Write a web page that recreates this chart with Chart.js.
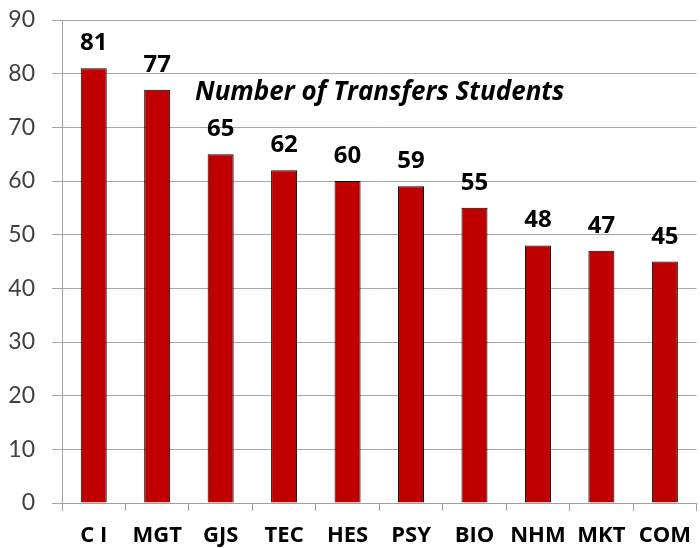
<!DOCTYPE html>
<html>
<head>
<meta charset="utf-8">
<script src="https://cdn.jsdelivr.net/npm/chart.js@4/dist/chart.umd.min.js"></script>
<style>
html,body{margin:0;padding:0;overflow:hidden;background:#fff;}
canvas{display:block;}
</style>
</head>
<body>
<canvas id="c" width="703" height="548"></canvas>
<script>
const categories = ["C I","MGT","GJS","TEC","HES","PSY","BIO","NHM","MKT","COM"];
const transfers = [81,77,65,62,60,59,55,48,47,45];
const yTicks = [0,10,20,30,40,50,60,70,80,90];
const chartTitle = "Number of Transfers Students";

const FONT = "Lato, 'Open Sans', sans-serif";
const BFONT = "'Open Sans', Lato, sans-serif";

const valueLabels = {
  id: 'valueLabels',
  afterDatasetsDraw(chart) {
    const ctx = chart.ctx;
    const meta = chart.getDatasetMeta(0);
    ctx.save();
    ctx.font = "bold 24px " + BFONT;
    ctx.fillStyle = "#000";
    ctx.textAlign = "center";
    ctx.textBaseline = "alphabetic";
    meta.data.forEach((bar, i) => {
      ctx.fillText(String(transfers[i]), bar.x, bar.y - 18);
    });
    ctx.restore();
  }
};

const innerTitle = {
  id: 'innerTitle',
  afterDraw(chart) {
    const ctx = chart.ctx;
    const a = chart.chartArea;
    ctx.save();
    ctx.font = "italic bold 26px " + BFONT;
    ctx.fillStyle = "#000";
    ctx.textAlign = "left";
    ctx.textBaseline = "alphabetic";
    ctx.fillText(chartTitle, a.left + 133, a.top + 80);
    ctx.restore();
  }
};

new Chart(document.getElementById('c'), {
  type: 'bar',
  data: {
    labels: categories,
    datasets: [{
      data: transfers,
      backgroundColor: '#C00000',
      borderColor: '#000000',
      borderWidth: 1,
      barPercentage: 0.41,
      categoryPercentage: 1.0
    }]
  },
  options: {
    responsive: false,
    animation: false,
    layout: { padding: { top: 20, right: 0, left: 0, bottom: 0 } },
    plugins: { legend: { display: false }, tooltip: { enabled: false }, title: { display: false } },
    scales: {
      x: {
        grid: { display: true, drawOnChartArea: false, drawTicks: true, tickLength: 8, color: '#A0A0A0', offset: true },
        border: { display: true, color: '#A0A0A0', width: 1 },
        ticks: { color: '#000', font: { family: BFONT, size: 22, weight: 'bold' }, padding: 12, maxRotation: 0, autoSkip: false },
        afterFit(scale) { scale.height = 45; scale.paddingTop = 0; scale.paddingBottom = 0; }
      },
      y: {
        min: 0, max: 90,
        afterBuildTicks(scale) { scale.ticks = yTicks.map(v => ({ value: v })); },
        grid: { color: '#A6A6A6', tickLength: 10, drawTicks: true },
        border: { display: true, color: '#A0A0A0', width: 1 },
        ticks: { color: '#404040', font: { family: FONT, size: 23 }, padding: 17 },
        afterFit(scale) { scale.width = 62; scale.paddingTop = 0; scale.paddingBottom = 0; }
      }
    }
  },
  plugins: [valueLabels, innerTitle]
});
</script>
</body>
</html>
